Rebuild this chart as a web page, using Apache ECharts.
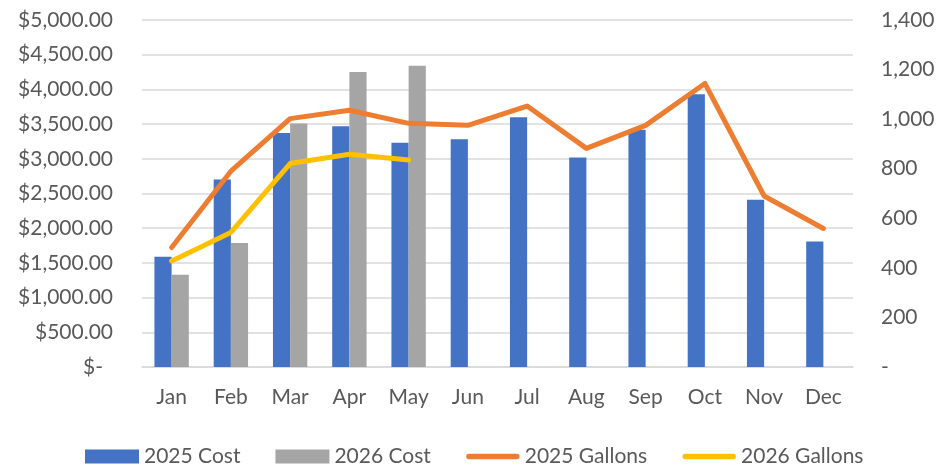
<!DOCTYPE html>
<html>
<head>
<meta charset="utf-8">
<script src="https://cdn.jsdelivr.net/npm/echarts@6/dist/echarts.min.js"></script>
<style>
  html, body { margin: 0; padding: 0; background: #fff; }
  #chart { width: 941px; height: 466px; }
</style>
</head>
<body>
<div id="chart"></div>
<script>
// Monthly fuel cost (left axis, dollars) and gallons (right axis)
const months = ['Jan', 'Feb', 'Mar', 'Apr', 'May', 'Jun', 'Jul', 'Aug', 'Sep', 'Oct', 'Nov', 'Dec'];
const cost2025 = [1590, 2700, 3370, 3470, 3230, 3280, 3600, 3020, 3420, 3930, 2410, 1810];
const cost2026 = [1330, 1785, 3510, 4250, 4340, null, null, null, null, null, null, null];
const gallons2025 = [482, 790, 1002, 1036, 983, 975, 1053, 882, 975, 1144, 690, 559];
const gallons2026 = [428, 543, 821, 858, 835, null, null, null, null, null, null, null];

const costTicks = { min: 0, max: 5000, interval: 500 };
const gallonTicks = { min: 0, max: 1400, interval: 200 };

const textColor = '#595959';
const fontFamily = 'Lato, "Liberation Sans", sans-serif';
const fontSize = 21;

// Legend swatch for the line series: a thin rounded stroke centred in the
// 54x14 legend box (the two zero-area corner marks only pin the bounding box).
const lineIcon = 'path://M0,0L0.01,0L0,0Z M0,14L0.01,14L0,14Z ' +
  'M3,4.3 L51,4.3 A2.7,2.7 0 0 1 51,9.7 L3,9.7 A2.7,2.7 0 0 1 3,4.3Z';

const chart = echarts.init(document.getElementById('chart'), null, { renderer: 'canvas' });

const moneyFmt = v => v === 0
  ? '{z|$-}'
  : '$' + v.toLocaleString('en-US', { minimumFractionDigits: 2, maximumFractionDigits: 2 });
const countFmt = v => v === 0 ? '-' : v.toLocaleString('en-US');

chart.setOption({
  animation: false,
  textStyle: { fontFamily: fontFamily },
  grid: { left: 142, right: 88, top: 20, bottom: 99, containLabel: false },
  legend: {
    left: 80,
    top: 441,
    itemWidth: 54,
    itemHeight: 14,
    itemGap: 35,
    textStyle: { color: textColor, fontSize: fontSize, fontFamily: fontFamily },
    data: [
      { name: '2025 Cost', icon: 'rect' },
      { name: '2026 Cost', icon: 'rect' },
      { name: '2025 Gallons', icon: lineIcon },
      { name: '2026 Gallons', icon: lineIcon }
    ]
  },
  xAxis: {
    type: 'category',
    data: months,
    axisTick: { show: false },
    axisLine: { lineStyle: { color: '#D9D9D9', width: 1.5 } },
    axisLabel: { color: textColor, fontSize: fontSize, margin: 20 }
  },
  yAxis: [
    {
      type: 'value',
      min: costTicks.min, max: costTicks.max, interval: costTicks.interval,
      axisLine: { show: false },
      axisTick: { show: false },
      splitLine: { lineStyle: { color: '#D9D9D9', width: 1.5 } },
      axisLabel: {
        color: textColor, fontSize: fontSize, margin: 29,
        formatter: moneyFmt,
        rich: { z: { color: textColor, fontSize: fontSize, padding: [0, 10, 0, 0] } }
      }
    },
    {
      type: 'value',
      min: gallonTicks.min, max: gallonTicks.max, interval: gallonTicks.interval,
      axisLine: { show: false },
      axisTick: { show: false },
      splitLine: { show: false },
      axisLabel: { color: textColor, fontSize: fontSize, margin: 28, formatter: countFmt }
    }
  ],
  series: [
    {
      name: '2025 Cost', type: 'bar', data: cost2025,
      barGap: '0%', barCategoryGap: '42%',
      itemStyle: { color: '#4472C4' }
    },
    {
      name: '2026 Cost', type: 'bar', data: cost2026,
      barGap: '0%', barCategoryGap: '42%',
      itemStyle: { color: '#A5A5A5' }
    },
    {
      name: '2025 Gallons', type: 'line', yAxisIndex: 1, data: gallons2025,
      symbol: 'none', showSymbol: false,
      itemStyle: { color: '#ED7D31' },
      lineStyle: { color: '#ED7D31', width: 5, cap: 'round', join: 'round' }
    },
    {
      name: '2026 Gallons', type: 'line', yAxisIndex: 1, data: gallons2026,
      symbol: 'none', showSymbol: false,
      itemStyle: { color: '#FFC000' },
      lineStyle: { color: '#FFC000', width: 5, cap: 'round', join: 'round' }
    }
  ]
});
</script>
</body>
</html>
